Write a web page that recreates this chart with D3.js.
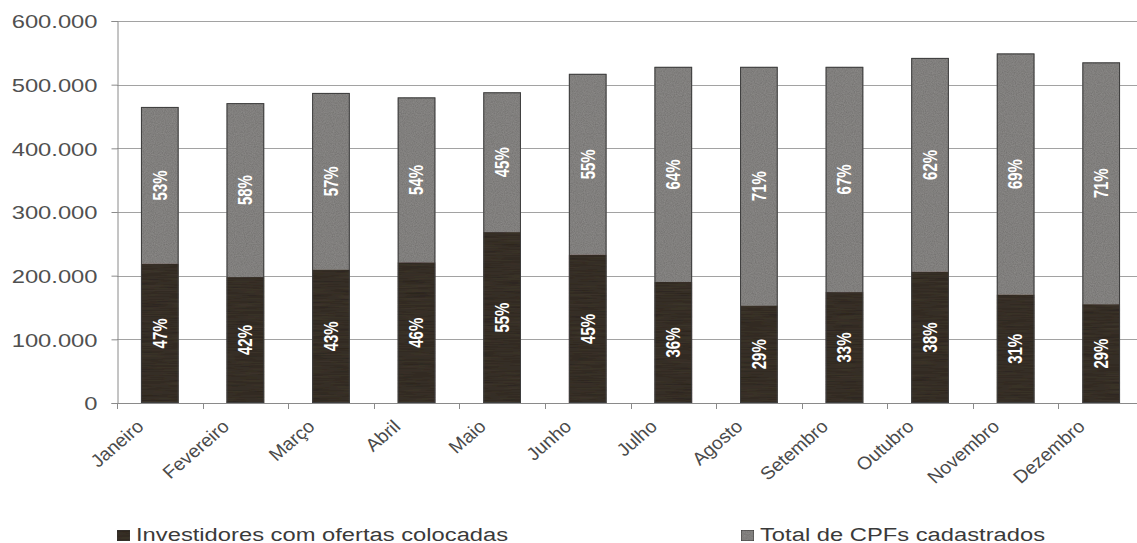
<!DOCTYPE html>
<html>
<head>
<meta charset="utf-8">
<script src="https://cdn.jsdelivr.net/npm/d3@7"></script>
<style>
  html, body { margin: 0; padding: 0; background: #fff; }
  svg { display: block; }
  text { font-family: "Liberation Sans", Arial, sans-serif; }
</style>
</head>
<body>
<svg id="chart" width="1137" height="543"></svg>
<script>
// Meses do ano
const months = ["Janeiro", "Fevereiro", "Março", "Abril", "Maio", "Junho",
                "Julho", "Agosto", "Setembro", "Outubro", "Novembro", "Dezembro"];
// Total de CPFs cadastrados por mês
const totalCPFs = [465000, 471000, 487000, 480000, 488000, 517000,
                   528000, 528000, 528000, 542000, 549000, 535000];
// Participação (%) dos investidores com ofertas colocadas
const investorPct = [47, 42, 43, 46, 55, 45, 36, 29, 33, 38, 31, 29];
// Participação (%) restante do total de CPFs
const remainderPct = [53, 58, 57, 54, 45, 55, 64, 71, 67, 62, 69, 71];
const yTicks = [0, 100000, 200000, 300000, 400000, 500000, 600000];
const seriesNames = ["Investidores com ofertas colocadas", "Total de CPFs cadastrados"];

const rows = months.map((m, i) => {
  const inv = totalCPFs[i] * investorPct[i] / 100;
  return { month: m, inv, total: totalCPFs[i], invPct: investorPct[i], restPct: remainderPct[i] };
});

const svg = d3.select("#chart");
const plotLeft = 117, plotRight = 1144, plotTop = 21, plotBottom = 403;
const widen = 1.3; // horizontal widening applied to the text

const x = d3.scaleBand().domain(months).range([plotLeft, plotRight]).paddingInner(0.56).paddingOuter(0.28);
const y = d3.scaleLinear().domain([0, 600000]).range([plotBottom, plotTop]);

// grain textures for the bar fills
const defs = svg.append("defs");
function grain(id, freq, amount) {
  const f = defs.append("filter").attr("id", id)
    .attr("x", 0).attr("y", 0).attr("width", 1).attr("height", 1);
  f.append("feTurbulence").attr("type", "fractalNoise")
    .attr("baseFrequency", freq).attr("numOctaves", 2).attr("seed", 3).attr("result", "noise");
  f.append("feColorMatrix").attr("in", "noise").attr("type", "matrix")
    .attr("values", `0 0 0 0 0  0 0 0 0 0  0 0 0 0 0  0 0 0 ${amount} 0`).attr("result", "dots");
  f.append("feComposite").attr("in", "dots").attr("in2", "SourceGraphic").attr("operator", "in").attr("result", "dotsIn");
  f.append("feMerge").call(m => {
    m.append("feMergeNode").attr("in", "SourceGraphic");
    m.append("feMergeNode").attr("in", "dotsIn");
  });
}
grain("grainLight", "0.9", 0.4);
grain("grainDark", "0.03 0.7", 0.55);

// gridlines
svg.append("g").selectAll("line").data(yTicks.filter(d => d > 0)).join("line")
  .attr("x1", plotLeft).attr("x2", 1137)
  .attr("y1", d => Math.round(y(d)) + 0.5).attr("y2", d => Math.round(y(d)) + 0.5)
  .attr("stroke", "#a2a2a2").attr("stroke-width", 1);

// y axis
const yAxis = d3.axisLeft(y).tickValues(yTicks).tickSize(6).tickPadding(10)
  .tickFormat(d => d3.format(",")(d).replace(/,/g, "."));
const gy = svg.append("g").attr("transform", `translate(${plotLeft + 0.5},0)`).call(yAxis);
gy.select(".domain").attr("stroke", "#8a8a8a");
gy.selectAll(".tick line").attr("stroke", "#8a8a8a");
gy.selectAll(".tick text")
  .attr("font-size", 19).attr("fill", "#505050")
  .attr("x", null).attr("dy", "0.36em")
  .attr("transform", `translate(-20,0) scale(1.25,1)`);

// x axis line with ticks at band boundaries
svg.append("line").attr("x1", plotLeft).attr("x2", 1137)
  .attr("y1", plotBottom + 0.5).attr("y2", plotBottom + 0.5).attr("stroke", "#8a8a8a");
const step = x.step();
svg.append("g").selectAll("line").data(d3.range(months.length + 1)).join("line")
  .attr("x1", i => Math.round(plotLeft + i * step) + 0.5).attr("x2", i => Math.round(plotLeft + i * step) + 0.5)
  .attr("y1", plotBottom).attr("y2", plotBottom + 6).attr("stroke", "#8a8a8a");

// month labels
svg.append("g").selectAll("text").data(months).join("text")
  .attr("text-anchor", "end")
  .attr("transform", d => `translate(${x(d) + x.bandwidth() / 2 - 15},${plotBottom + 25}) scale(1.08,1) rotate(-43)`)
  .attr("font-size", 18).attr("fill", "#4a4a4a")
  .text(d => d);

// stacked bars
const bars = svg.append("g");
bars.selectAll("rect.light").data(rows).join("rect").attr("class", "light")
  .attr("x", d => x(d.month)).attr("width", x.bandwidth())
  .attr("y", d => y(d.total)).attr("height", d => y(d.inv) - y(d.total))
  .attr("fill", "#8f8d8b").attr("filter", "url(#grainLight)");
bars.selectAll("rect.dark").data(rows).join("rect").attr("class", "dark")
  .attr("x", d => x(d.month)).attr("width", x.bandwidth())
  .attr("y", d => y(d.inv)).attr("height", d => y(0) - y(d.inv))
  .attr("fill", "#40372f").attr("filter", "url(#grainDark)");
bars.selectAll("rect.outline").data(rows).join("rect").attr("class", "outline")
  .attr("x", d => x(d.month) + 0.5).attr("width", x.bandwidth() - 1)
  .attr("y", d => y(d.total) + 0.5).attr("height", d => y(0) - y(d.total) - 1)
  .attr("fill", "none").attr("stroke", "#3e3e3e").attr("stroke-width", 1);

// percentage labels inside each segment
const labels = svg.append("g").attr("fill", "#fff").attr("font-size", 15).attr("font-weight", "bold");
labels.selectAll("text.rest").data(rows).join("text").attr("class", "rest")
  .attr("text-anchor", "middle").attr("dy", "0.35em")
  .attr("transform", d => `translate(${x(d.month) + x.bandwidth() / 2},${(y(d.total) + y(d.inv)) / 2}) scale(${widen},1) rotate(-90)`)
  .text(d => d.restPct + "%");
labels.selectAll("text.inv").data(rows).join("text").attr("class", "inv")
  .attr("text-anchor", "middle").attr("dy", "0.35em")
  .attr("transform", d => `translate(${x(d.month) + x.bandwidth() / 2},${(y(d.inv) + y(0)) / 2}) scale(${widen},1) rotate(-90)`)
  .text(d => d.invPct + "%");

// legend
const legendItems = [
  { name: seriesNames[0], color: "#40372f", filter: "url(#grainDark)", x: 117 },
  { name: seriesNames[1], color: "#8f8d8b", filter: "url(#grainLight)", x: 741 }
];
const lg = svg.append("g").selectAll("g").data(legendItems).join("g")
  .attr("transform", d => `translate(${d.x},530)`);
lg.append("rect").attr("width", 13).attr("height", 11)
  .attr("fill", d => d.color).attr("stroke", "#3e3e3e").attr("filter", d => d.filter);
lg.append("text").attr("transform", `translate(19,11) scale(${widen + 0.02},1)`)
  .attr("font-size", 18).attr("fill", "#3a3a3a")
  .text(d => d.name);
</script>
</body>
</html>
